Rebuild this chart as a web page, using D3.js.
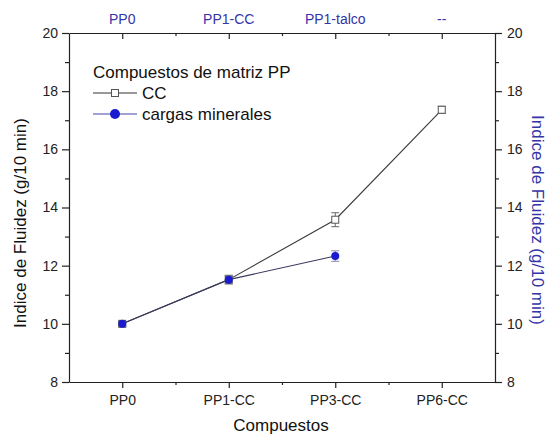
<!DOCTYPE html>
<html>
<head>
<meta charset="utf-8">
<script src="https://cdn.jsdelivr.net/npm/d3@7"></script>
<style>
  body { margin: 0; background: #fff; }
  svg { display: block; font-family: Arial, "Liberation Sans", sans-serif; }
</style>
</head>
<body>
<svg id="chart" width="547" height="434"></svg>
<script>
// Categories on the bottom and top axes
const categories = ["PP0", "PP1-CC", "PP3-CC", "PP6-CC"];
const topLabels = ["PP0", "PP1-CC", "PP1-talco", "--"];

// Melt flow index (g/10 min) with error
const ccValues = [10.0, 11.52, 13.58, 17.36];
const ccErrors = [0.08, 0.15, 0.24, 0.12];
const mineralValues = [10.0, 11.52, 12.33];
const mineralErrors = [0.06, 0.12, 0.18];

const yTicks = [8, 10, 12, 14, 16, 18, 20];
const yMinorTicks = [9, 11, 13, 15, 17, 19];

const margin = { left: 69, right: 52, top: 33, bottom: 52 };
const W = 547, H = 434;
const svg = d3.select("#chart");

const x = d3.scaleLinear().domain([-0.5, categories.length - 0.5])
  .range([margin.left, W - margin.right]);
const y = d3.scaleLinear().domain([8, 20])
  .range([H - margin.bottom, margin.top]);

const axisColor = "#222";
const blue = "#1a1ad0";
const labelBlue = "#3535a8";
const tickFont = "14px";
const titleFont = "17px";

// Bottom axis
const idx = categories.map((d, i) => i);
const minorX = [0.5, 1.5, 2.5];
const bottomAxis = svg.append("g").attr("transform", `translate(0,${y(8)})`);
bottomAxis.call(d3.axisBottom(x).tickValues(idx).tickFormat(i => categories[i])
  .tickSize(6).tickPadding(7).tickSizeOuter(0));
bottomAxis.append("g").call(d3.axisBottom(x).tickValues(minorX).tickFormat("").tickSize(3).tickSizeOuter(0))
  .select(".domain").remove();
bottomAxis.selectAll("text").style("font-size", tickFont).attr("fill", "#222");

// Top axis (ticks pointing into the plot)
const topAxis = svg.append("g").attr("transform", `translate(0,${y(20)})`);
topAxis.call(d3.axisBottom(x).tickValues(idx).tickFormat("").tickSize(6).tickSizeOuter(0));
topAxis.append("g").call(d3.axisBottom(x).tickValues(minorX).tickFormat("").tickSize(3).tickSizeOuter(0))
  .select(".domain").remove();
svg.append("g").selectAll("text").data(topLabels).join("text")
  .attr("x", (d, i) => x(i)).attr("y", 24)
  .attr("text-anchor", "middle").attr("fill", labelBlue)
  .style("font-size", tickFont).text(d => d);

// Left axis
const leftAxis = svg.append("g").attr("transform", `translate(${x(-0.5)},0)`);
leftAxis.call(d3.axisLeft(y).tickValues(yTicks).tickFormat(d3.format("d")).tickSize(7).tickPadding(4).tickSizeOuter(0));
leftAxis.append("g").call(d3.axisLeft(y).tickValues(yMinorTicks).tickFormat("").tickSize(4).tickSizeOuter(0))
  .select(".domain").remove();
leftAxis.selectAll("text").style("font-size", tickFont).attr("fill", "#222");

// Right axis
const rightAxis = svg.append("g").attr("transform", `translate(${x(categories.length - 0.5)},0)`);
rightAxis.call(d3.axisRight(y).tickValues(yTicks).tickFormat(d3.format("d")).tickSize(7).tickPadding(5).tickSizeOuter(0));
rightAxis.append("g").call(d3.axisRight(y).tickValues(yMinorTicks).tickFormat("").tickSize(4).tickSizeOuter(0))
  .select(".domain").remove();
rightAxis.selectAll("text").style("font-size", tickFont).attr("fill", "#222");

svg.selectAll(".domain, .tick line").attr("stroke", axisColor).attr("stroke-width", 1.2);

// Axis titles
svg.append("text").attr("transform", `translate(26,223) rotate(-90)`)
  .attr("text-anchor", "middle").style("font-size", titleFont).attr("fill", "#111")
  .text("Indice de Fluidez (g/10 min)");
svg.append("text").attr("transform", `translate(532,220) rotate(90)`)
  .attr("text-anchor", "middle").style("font-size", titleFont).attr("fill", labelBlue)
  .text("Indice de Fluidez (g/10 min)");
svg.append("text").attr("x", 281).attr("y", 431)
  .attr("text-anchor", "middle").style("font-size", titleFont).attr("fill", "#111")
  .text("Compuestos");

// Series lines
const line = d3.line().x((d, i) => x(i)).y(d => y(d));
svg.append("path").datum(ccValues).attr("d", line)
  .attr("fill", "none").attr("stroke", "#3a3a3a").attr("stroke-width", 1.1);
svg.append("path").datum(mineralValues).attr("d", line)
  .attr("fill", "none").attr("stroke", "#3a3a60").attr("stroke-width", 1.1);

// Error bars
function errorBars(vals, errs, color) {
  const g = svg.append("g").attr("stroke", color).attr("stroke-width", 1);
  vals.forEach((v, i) => {
    const cx = x(i), y0 = y(v - errs[i]), y1 = y(v + errs[i]);
    g.append("line").attr("x1", cx).attr("x2", cx).attr("y1", y0).attr("y2", y1);
    g.append("line").attr("x1", cx - 4).attr("x2", cx + 4).attr("y1", y0).attr("y2", y0);
    g.append("line").attr("x1", cx - 4).attr("x2", cx + 4).attr("y1", y1).attr("y2", y1);
  });
}
errorBars(ccValues, ccErrors, "#666");
errorBars(mineralValues, mineralErrors, "#8888aa");

// Markers
svg.append("g").selectAll("rect").data(ccValues).join("rect")
  .attr("x", (d, i) => x(i) - 3.5).attr("y", d => y(d) - 3.5)
  .attr("width", 7).attr("height", 7)
  .attr("fill", "#fff").attr("stroke", "#555").attr("stroke-width", 1);
svg.append("g").selectAll("circle").data(mineralValues).join("circle")
  .attr("cx", (d, i) => x(i)).attr("cy", d => y(d)).attr("r", 4)
  .attr("fill", blue);

// Legend
const lg = svg.append("g");
lg.append("text").attr("x", 93).attr("y", 78).style("font-size", titleFont).attr("fill", "#111")
  .text("Compuestos de matriz PP");
lg.append("line").attr("x1", 93).attr("x2", 137).attr("y1", 93).attr("y2", 93)
  .attr("stroke", "#333").attr("stroke-width", 1.1);
lg.append("rect").attr("x", 111.5).attr("y", 89.5).attr("width", 7).attr("height", 7)
  .attr("fill", "#fff").attr("stroke", "#555");
lg.append("text").attr("x", 142).attr("y", 99).style("font-size", titleFont).attr("fill", "#111").text("CC");
lg.append("line").attr("x1", 93).attr("x2", 137).attr("y1", 114).attr("y2", 114)
  .attr("stroke", "#4444aa").attr("stroke-width", 1.1);
lg.append("circle").attr("cx", 115).attr("cy", 114).attr("r", 5).attr("fill", blue);
lg.append("text").attr("x", 142).attr("y", 119.5).style("font-size", titleFont).attr("fill", "#111").text("cargas minerales");
</script>
</body>
</html>
